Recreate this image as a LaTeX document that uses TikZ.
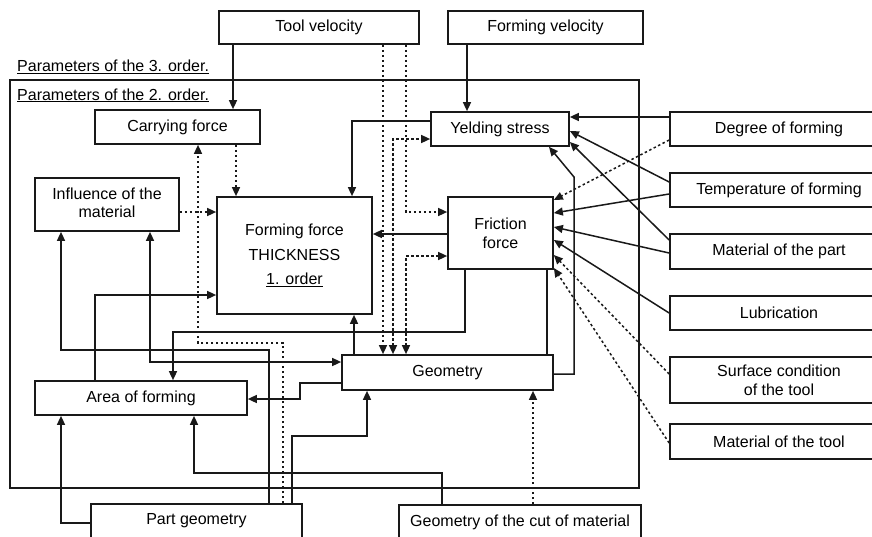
\documentclass[tikz,border=0pt]{standalone}
\usepackage{fontspec}
\setmainfont{Liberation Sans}
\usetikzlibrary{arrows.meta}
\begin{document}
\begin{tikzpicture}[x=1pt,y=-1pt,
  box/.style={draw=black!90, line width=1.7pt, align=center, inner sep=2pt, font=\fontsize{16}{19}\selectfont},
  ln/.style={line width=1.5pt, draw=black!90},
  arr/.style={ln, -{Triangle[length=9pt,width=8pt]}},
  darr/.style={ln, {Triangle[length=9pt,width=8pt]}-{Triangle[length=9pt,width=8pt]}},
  dots/.style={dash pattern=on 2.5pt off 2.5pt},
  lbl/.style={anchor=base west, inner sep=0pt, font=\fontsize{16}{19}\selectfont}]
\useasboundingbox (0,0) rectangle (872,536);
\clip (0,0) rectangle (872,536);
\fill[white] (0,0) rectangle (872,536);

% frame of 2nd order parameters
\draw[line width=1.7pt, draw=black!90] (10,80) rectangle (639,488);
\node[lbl] (p3) at (17,71.5) {\underline{Parameters of the 3. order.}};
\node[lbl] (p2) at (17,100) {\underline{Parameters of the 2. order.}};

% boxes
\node[box, minimum width=200pt, minimum height=33pt] (tool) at (319,27.5) {Tool velocity};
\node[box, minimum width=195pt, minimum height=33pt] (formv) at (545.5,27.5) {Forming velocity};
\node[box, minimum width=165pt, minimum height=34pt] (carry) at (177.5,127) {Carrying force};
\node[box, minimum width=138pt, minimum height=34pt] (yield) at (500,129) {Yelding stress};
\node[box, minimum width=144pt, minimum height=53pt] (infl) at (107,204.5) {\raisebox{-3pt}{\begin{tabular}{@{}c@{}}Influence of the\\[-1pt] material\end{tabular}}};
\node[box, minimum width=155pt, minimum height=117pt, font=\fontsize{16}{24.5}\selectfont] (force) at (294.5,255.5) {Forming force\\THICKNESS\\\underline{1. order}};
\node[box, minimum width=105pt, minimum height=72pt] (fric) at (500.5,233) {Friction\\force};
\node[box, minimum width=211pt, minimum height=35pt] (geom) at (447.5,372.5) {Geometry};
\node[box, minimum width=212pt, minimum height=34pt] (area) at (141,398) {Area of forming};
\node[box, minimum width=211pt, minimum height=34pt] (partg) at (196.5,521) {Part geometry};
\node[box, minimum width=242pt, minimum height=34pt] (cut) at (520,522) {Geometry of the cut of material};
\node[box, minimum width=218pt, minimum height=34pt] (deg) at (779,129) {Degree of forming};
\node[box, minimum width=218pt, minimum height=34pt] (temp) at (779,190) {Temperature of forming};
\node[box, minimum width=218pt, minimum height=35pt] (matp) at (779,251.5) {Material of the part};
\node[box, minimum width=218pt, minimum height=34pt] (lub) at (779,313) {Lubrication};
\node[box, minimum width=218pt, minimum height=46pt] (surf) at (779,380) {Surface condition\\of the tool};
\node[box, minimum width=218pt, minimum height=35pt] (matt) at (779,441.5) {Material of the tool};

% connectors from the top
\draw[arr] (233,0 |- tool.south) -- (233,0 |- carry.north);
\draw[arr,dots] (383,0 |- tool.south) -- (383,0 |- geom.north);
\draw[arr,dots] (406,0 |- tool.south) |- (fric.west |- 0,212);
\draw[arr] (467,0 |- formv.south) -- (467,0 |- yield.north);

% inner connectors
\draw[arr,dots] (236,0 |- carry.south) -- (236,0 |- force.north);
\draw[arr,dots] (283,0 |- partg.north) -- (283,343) -| (198,0 |- carry.south);
\draw[arr,dots] (infl.east |- 0,212) -- (force.west |- 0,212);
\draw[arr] (yield.west |- 0,121) -| (352,0 |- force.north);
\draw[arr] (fric.west |- 0,234) -- (force.east |- 0,234);
\draw[arr] (354,0 |- geom.north) -- (354,0 |- force.south);
\draw[arr] (465,0 |- fric.south) |- (173,332) -- (173,0 |- area.north);
\draw[ln] (547,0 |- fric.south) -- (547,0 |- geom.north);
\draw[arr] (geom.east |- 0,374) -- (574,374) -- (574,177) -- (549,0 |- yield.south);
\draw[arr] (95,0 |- area.north) |- (force.west |- 0,295);
\draw[arr] (269,0 |- partg.north) |- (61,350) -- (61,0 |- infl.south);
\draw[darr] (150,0 |- infl.south) |- (geom.west |- 0,362);
\draw[arr] (geom.west |- 0,383) -- (300,383) |- (area.east |- 0,399);
\draw[arr] (292,0 |- partg.north) |- (367,436) -- (367,0 |- geom.south);
\draw[arr] (partg.west |- 0,523) -| (61,0 |- area.south);
\draw[arr] (442,0 |- cut.north) |- (194,473) -- (194,0 |- area.south);
\draw[arr,dots] (533,0 |- cut.north) -- (533,0 |- geom.south);
\draw[darr,dots] (393,0 |- geom.north) |- (yield.west |- 0,139);
\draw[darr,dots] (406,0 |- geom.north) |- (fric.west |- 0,256);

% connectors from the right
\draw[arr] (deg.west |- 0,117) -- (yield.east |- 0,117);
\draw[arr,dots] (deg.west |- 0,140) -- (fric.east |- 0,200);
\draw[arr] (temp.west |- 0,182) -- (yield.east |- 0,131);
\draw[arr] (temp.west |- 0,194) -- (fric.east |- 0,213);
\draw[arr] (matp.west |- 0,240) -- (yield.east |- 0,142);
\draw[arr] (matp.west |- 0,253) -- (fric.east |- 0,227);
\draw[arr] (lub.west |- 0,313) -- (fric.east |- 0,240);
\draw[arr,dots] (surf.west |- 0,374) -- (fric.east |- 0,255);
\draw[arr,dots] (matt.west |- 0,443) -- (fric.east |- 0,268);
\end{tikzpicture}
\end{document}
